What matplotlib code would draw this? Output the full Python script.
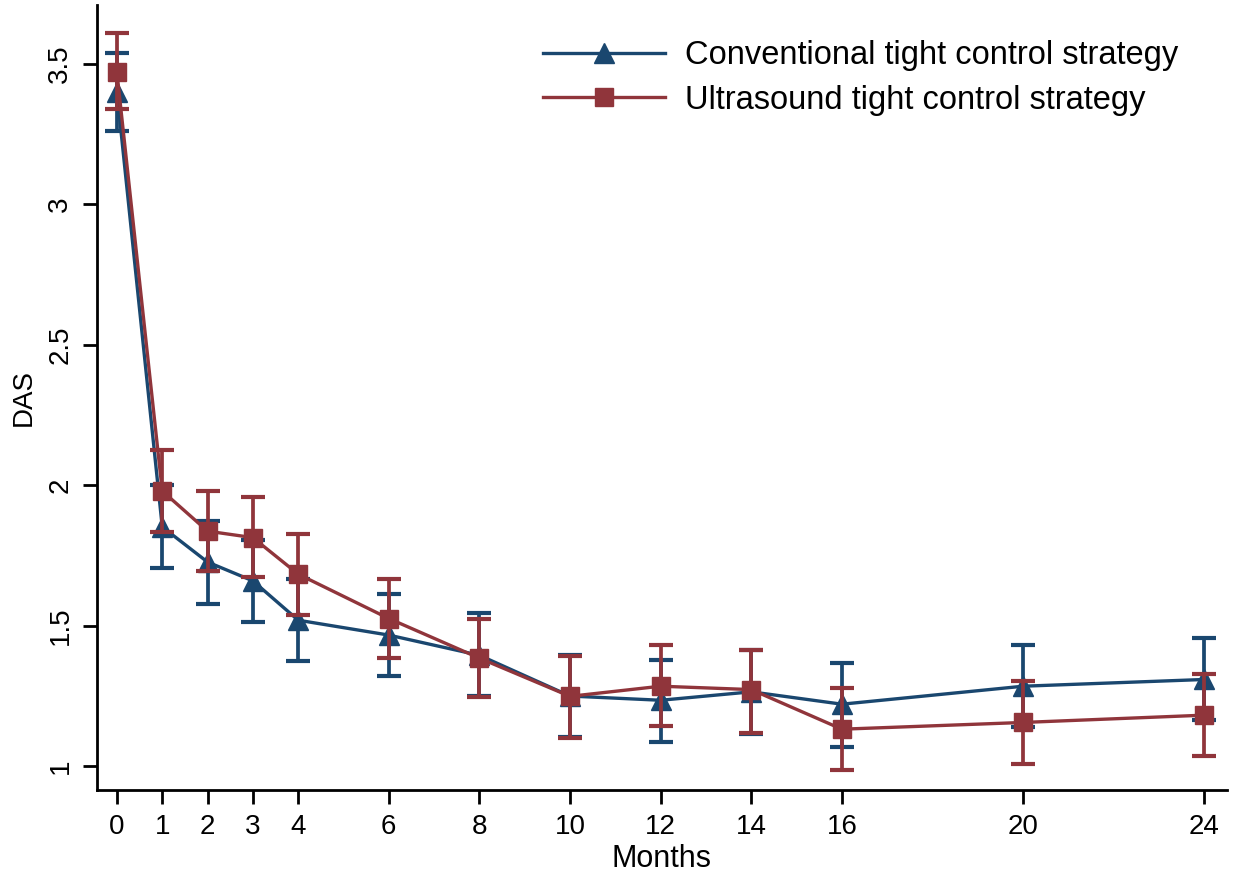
import matplotlib
matplotlib.use("Agg")
import matplotlib.pyplot as plt
import numpy as np

# data
months = [0, 1, 2, 3, 4, 6, 8, 10, 12, 14, 16, 20, 24]

conv_mean = [3.40, 1.852, 1.727, 1.660, 1.520, 1.467, 1.395, 1.250, 1.235, 1.265, 1.221, 1.285, 1.309]
conv_low = [3.26, 1.706, 1.577, 1.514, 1.374, 1.323, 1.250, 1.105, 1.087, 1.114, 1.067, 1.140, 1.163]
conv_high = [3.54, 2.000, 1.873, 1.806, 1.666, 1.613, 1.547, 1.395, 1.380, 1.415, 1.366, 1.431, 1.455]

us_mean = [3.47, 1.980, 1.837, 1.814, 1.684, 1.526, 1.385, 1.249, 1.285, 1.273, 1.132, 1.156, 1.182]
us_low = [3.34, 1.835, 1.695, 1.674, 1.538, 1.385, 1.247, 1.102, 1.143, 1.120, 0.988, 1.007, 1.037]
us_high = [3.61, 2.125, 1.979, 1.957, 1.826, 1.668, 1.523, 1.393, 1.431, 1.415, 1.278, 1.303, 1.328]

navy = '#1a476f'
maroon = '#90353b'

plt.rcParams['font.family'] = ['Liberation Sans', 'DejaVu Sans']

fig = plt.figure(figsize=(12.34, 8.76), dpi=100)
ax = fig.add_axes([0.0786, 0.098, 0.9154, 0.8963])


def draw(mean, low, high, color, marker, ms, label):
    mean = np.array(mean)
    err = [mean - np.array(low), np.array(high) - mean]
    ax.errorbar(months, mean, yerr=err, fmt='none', ecolor=color, elinewidth=2.7,
                capsize=8.5, capthick=3)
    ax.plot(months, mean, color=color, lw=2.4, marker=marker, ms=ms, label=label)


draw(conv_mean, conv_low, conv_high, navy, '^', 14, 'Conventional tight control strategy')
draw(us_mean, us_low, us_high, maroon, 's', 13, 'Ultrasound tight control strategy')

ax.set_xlim(-0.44, 24.49)
ax.set_ylim(0.915, 3.71)
ax.set_xticks(months)
ax.set_yticks([1, 1.5, 2, 2.5, 3, 3.5])
ax.set_yticklabels(['1', '1.5', '2', '2.5', '3', '3.5'], rotation=90, va='center')
ax.tick_params(axis='both', labelsize=20, length=10, width=2, direction='out', pad=7)

for s in ['top', 'right']:
    ax.spines[s].set_visible(False)
for s in ['left', 'bottom']:
    ax.spines[s].set_linewidth(2)

ax.set_xlabel('Months', fontsize=22, labelpad=3)
ax.set_ylabel('DAS', fontsize=20, labelpad=8)

fig.legend(loc='upper left', bbox_to_anchor=(543 / 1234, 1 - 40 / 876), frameon=False,
           fontsize=23.5, handlelength=3.75, handletextpad=0.6, labelspacing=0.42,
           borderpad=0, borderaxespad=0)

fig.savefig('out.png', dpi=100)
